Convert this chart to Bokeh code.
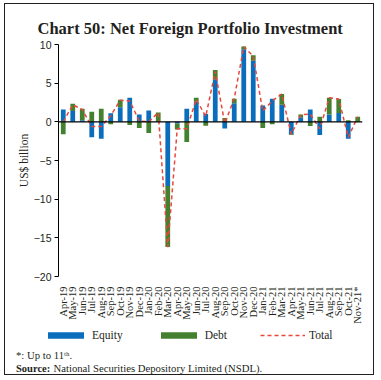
import math
from bokeh.plotting import figure
from bokeh.layouts import column
from bokeh.models import (FactorRange, Span, Label, Legend, LegendItem,
                          ColumnDataSource, FixedTicker, Range1d)
from bokeh.embed import file_html
from bokeh.resources import INLINE

months = ["Apr-19", "May-19", "Jun-19", "Jul-19", "Aug-19", "Sep-19", "Oct-19",
          "Nov-19", "Dec-19", "Jan-20", "Feb-20", "Mar-20", "Apr-20", "May-20",
          "Jun-20", "Jul-20", "Aug-20", "Sep-20", "Oct-20", "Nov-20", "Dec-20",
          "Jan-21", "Feb-21", "Mar-21", "Apr-21", "May-21", "Jun-21", "Jul-21",
          "Aug-21", "Sep-21", "Oct-21", "Nov-21*"]
equity = [1.6, 1.4, 0.2, -2.0, -2.2, 1.1, 1.9, 3.1, 0.95, 1.45, 0.1, -8.3,
          -0.2, 1.7, 2.6, 1.0, 5.5, -0.85, 2.4, 9.4, 7.9, 2.1, 3.0, 2.2,
          -1.6, 0.6, 1.6, -1.7, 0.95, 1.15, -2.2, 0.0]
debt = [-1.6, 0.95, 1.5, 1.3, 1.7, -0.3, 0.95, -0.4, -0.8, -1.45, 1.1, -7.9,
        -0.8, -2.6, 0.5, -0.5, 1.2, 0.5, 0.6, 0.35, 0.7, -0.8, -0.3, 1.4,
        -0.1, 0.35, -0.55, 0.65, 2.15, 1.8, 0.2, 0.65]
total = [0.0, 2.2, 1.6, -0.6, -0.6, 0.8, 2.8, 2.7, 0.1, 0.0, 1.2, -16.2,
         -0.9, -0.9, 2.9, 0.7, 6.5, -0.2, 3.0, 9.7, 8.5, 1.4, 2.7, 3.6,
         -1.6, 0.9, 1.0, -0.9, 3.1, 2.95, -2.0, 0.65]
y_ticks = [-20, -15, -10, -5, 0, 5, 10]

BLUE = "#0B6EBD"
GREEN = "#43802F"
RED = "#E8473A"
TXT = "#231F20"
SERIF = "Liberation Serif"

eq_bottom = [0.0] * len(months)
eq_top = list(equity)
debt_bottom = [e if (e >= 0) == (d >= 0) else 0.0 for e, d in zip(equity, debt)]
debt_top = [b + d for b, d in zip(debt_bottom, debt)]

src = ColumnDataSource(dict(month=months, eb=eq_bottom, et=eq_top,
                            db=debt_bottom, dt=debt_top, total=total))

W = 368
CH = 322
chart = figure(x_range=FactorRange(*months), y_range=(-20, 10),
               width=W, height=CH, output_backend="svg", toolbar_location=None,
               min_border_left=53, min_border_right=11, min_border_top=40,
               min_border_bottom=50)
chart.frame_align = False
chart.outline_line_color = None
chart.grid.visible = False
chart.background_fill_color = "white"
chart.border_fill_color = "white"

chart.vbar(x="month", bottom="eb", top="et", width=0.5, source=src,
           fill_color=BLUE, line_color=None)
chart.vbar(x="month", bottom="db", top="dt", width=0.5, source=src,
           fill_color=GREEN, line_color=None)
chart.add_layout(Span(location=0, dimension="width", line_color="black",
                      line_width=1.4))
chart.line(x="month", y="total", source=src, line_color=RED,
           line_width=1.5, line_dash="4 3")

# title
chart.title.text = "Chart 50: Net Foreign Portfolio Investment"
chart.title.align = "left"
chart.title.offset = -21
chart.title.standoff = 14
chart.title.text_font = SERIF
chart.title.text_font_size = "16.5px"
chart.title.text_font_style = "bold"
chart.title.text_color = TXT

# y axis
ya = chart.yaxis[0]
ya.ticker = FixedTicker(ticks=y_ticks)
ya.axis_line_color = "black"
ya.major_tick_line_color = "black"
ya.major_tick_out = 4
ya.major_tick_in = 0
ya.minor_tick_line_color = None
ya.major_label_text_font = "Liberation Sans"
ya.major_label_text_font_size = "10.5px"
ya.major_label_text_color = TXT
ya.major_label_standoff = 3
ya.axis_label = "US$ billion"
ya.axis_label_text_font = SERIF
ya.axis_label_text_font_style = "normal"
ya.axis_label_text_font_size = "11.5px"
ya.axis_label_text_color = TXT
ya.axis_label_standoff = 1

# x axis
xa = chart.xaxis[0]
xa.axis_line_color = None
xa.major_tick_line_color = None
xa.minor_tick_line_color = None
xa.major_label_orientation = math.pi / 2
xa.major_label_text_font = SERIF
xa.major_label_text_font_size = "10.5px"
xa.major_label_text_color = TXT
xa.major_label_standoff = 4

# footer: legend + notes (footer renderers lie outside its y range, only
# their legend swatches show)
FH = 370 - CH
footer = figure(width=W, height=FH, x_range=FactorRange(*months),
                y_range=Range1d(100, 100 + FH),
                output_backend="svg", toolbar_location=None,
                x_axis_location=None, y_axis_location=None,
                min_border=0)
footer.frame_align = False
footer.outline_line_color = None
footer.grid.visible = False

l_eq = footer.vbar(x="month", bottom="eb", top="et", width=0.5, source=src,
                   fill_color=BLUE, line_color=None)
l_debt = footer.vbar(x="month", bottom="db", top="dt", width=0.5, source=src,
                     fill_color=GREEN, line_color=None)
l_tot = footer.line(x="month", y="total", source=src, line_color=RED,
                    line_width=1.5, line_dash="4 3")

leg = Legend(items=[LegendItem(label="Equity", renderers=[l_eq]),
                    LegendItem(label="Debt", renderers=[l_debt]),
                    LegendItem(label="Total", renderers=[l_tot])],
             location=(38, 33), orientation="horizontal",
             glyph_width=45, glyph_height=8, label_height=12,
             label_standoff=4, spacing=33,
             padding=0, margin=0, border_line_color=None,
             background_fill_alpha=0, label_text_font=SERIF,
             label_text_font_size="11.5px", label_text_color=TXT)
footer.add_layout(leg)

def lab(x, y, text, size="10.7px", style="normal"):
    footer.add_layout(Label(x=x, y=y, x_units="screen", y_units="screen",
                            text=text, text_font=SERIF,
                            text_font_size=size, text_font_style=style,
                            text_color=TXT, text_align="left",
                            text_baseline="alphabetic"))

lab(10.5, 19.5, "*: Up to 11\u1d57\u02b0.")
lab(10.5, 6.5, "Source:", size="10.5px", style="bold")
lab(48, 6.5, "National Securities Depository Limited (NSDL).")

p = column(chart, footer, spacing=0,
           styles={"border": "1.5px solid #231F20", "margin-left": "4px",
                   "margin-top": "3px"})

open("out.html", "w").write(file_html(p, INLINE))
